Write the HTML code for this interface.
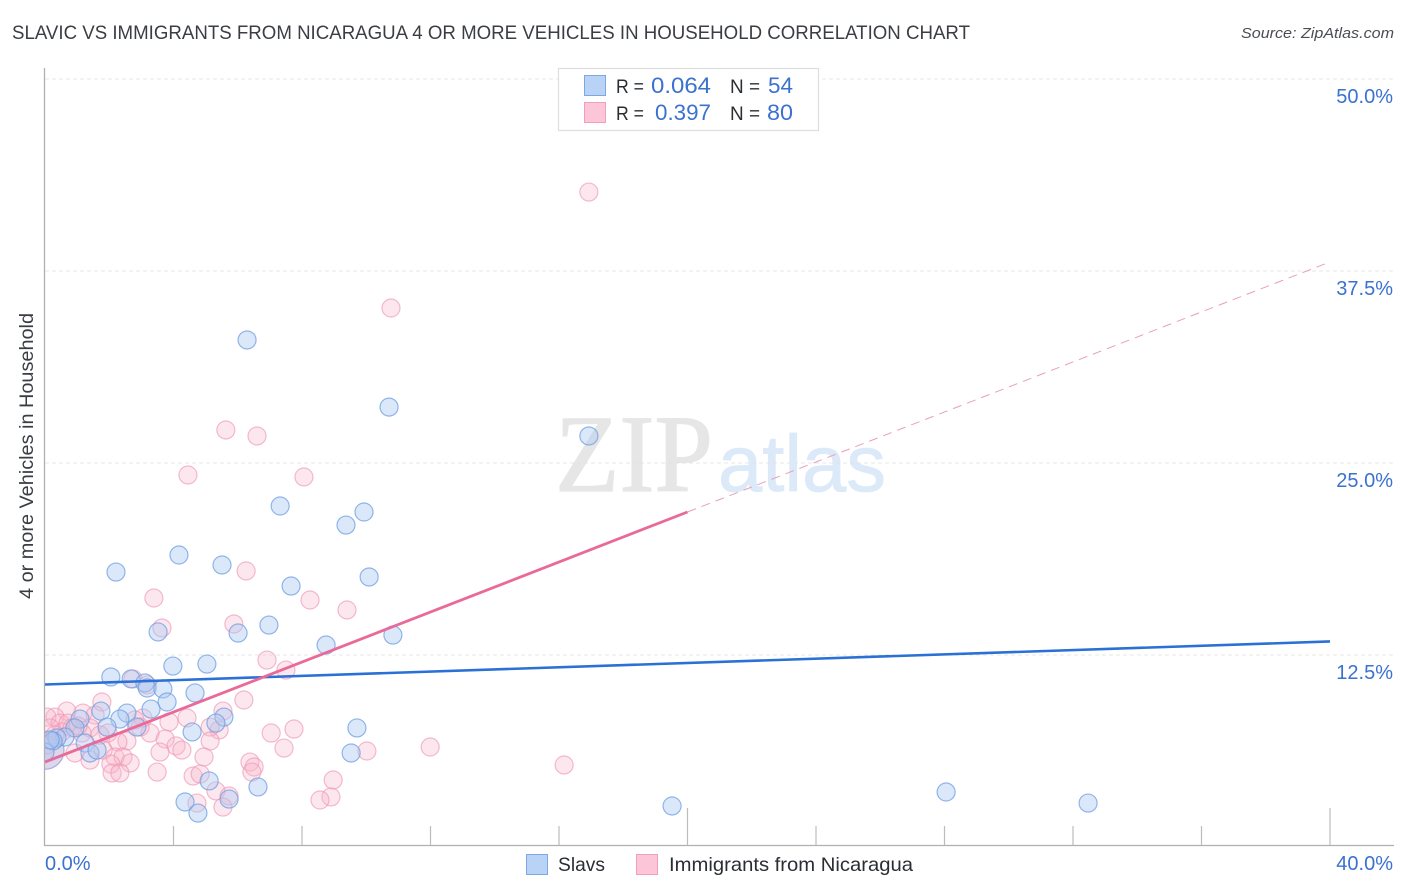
<!DOCTYPE html>
<html lang="en">
<head>
<meta charset="utf-8">
<title>Slavic vs Immigrants from Nicaragua correlation chart</title>
<style>
html,body{margin:0;padding:0;background:#fff;width:1406px;height:892px;overflow:hidden}
svg{display:block;font-family:"Liberation Sans",sans-serif}
</style>
</head>
<body>
<svg id="chart" xmlns="http://www.w3.org/2000/svg" width="1406" height="892" viewBox="0 0 1406 892">
  <defs><clipPath id="plot-clip"><rect x="45" y="60" width="1350" height="785"/></clipPath></defs>
  <rect width="1406" height="892" fill="#fff"/>
  <text x="12" y="39" font-size="19" fill="#3a3e43" textLength="958" lengthAdjust="spacingAndGlyphs">SLAVIC VS IMMIGRANTS FROM NICARAGUA 4 OR MORE VEHICLES IN HOUSEHOLD CORRELATION CHART</text>
  <text x="1394" y="38" font-size="15" font-style="italic" fill="#4a4e54" text-anchor="end" textLength="153" lengthAdjust="spacingAndGlyphs">Source: ZipAtlas.com</text>
  <g>
    <text x="555" y="491" font-family="'Liberation Serif',serif" font-size="110" fill="#e6e6e6" stroke="#e6e6e6" stroke-width="1.2" textLength="158" lengthAdjust="spacingAndGlyphs">ZIP</text>
    <text x="718" y="491" font-size="80" fill="#dce9f8" stroke="#dce9f8" stroke-width="0.8" textLength="168" lengthAdjust="spacingAndGlyphs">atlas</text>
  </g>
  <g id="grid"></g>
  <g id="axes"></g>
  <g id="marks" clip-path="url(#plot-clip)"></g>
  <g id="trends" clip-path="url(#plot-clip)"></g>
  <text transform="translate(33,456) rotate(-90)" font-size="19" fill="#3a3e43" text-anchor="middle" textLength="286" lengthAdjust="spacingAndGlyphs">4 or more Vehicles in Household</text>

  <g>
    <rect x="558.5" y="68.5" width="260" height="62" fill="#fff" stroke="#dedede" stroke-width="1.2"/>
    <rect x="584.5" y="75.5" width="21" height="20" fill="#b9d3f6" stroke="#7ea8e2"/>
    <rect x="584.5" y="102.5" width="21" height="20" fill="#fcc6d8" stroke="#f0a0bb"/>
    <text x="616" y="93" font-size="19.5" fill="#2a2e33" textLength="28" lengthAdjust="spacingAndGlyphs">R =</text>
    <text x="711" y="93" font-size="22" fill="#3b72d0" text-anchor="end" textLength="60" lengthAdjust="spacingAndGlyphs">0.064</text>
    <text x="730" y="93" font-size="19.5" fill="#2a2e33" textLength="30" lengthAdjust="spacingAndGlyphs">N =</text>
    <text x="793" y="93" font-size="22" fill="#3b72d0" text-anchor="end" textLength="25" lengthAdjust="spacingAndGlyphs">54</text>
    <text x="616" y="120" font-size="19.5" fill="#2a2e33" textLength="28" lengthAdjust="spacingAndGlyphs">R =</text>
    <text x="711" y="120" font-size="22" fill="#3b72d0" text-anchor="end" textLength="56" lengthAdjust="spacingAndGlyphs">0.397</text>
    <text x="730" y="120" font-size="19.5" fill="#2a2e33" textLength="30" lengthAdjust="spacingAndGlyphs">N =</text>
    <text x="793" y="120" font-size="22" fill="#3b72d0" text-anchor="end" textLength="26" lengthAdjust="spacingAndGlyphs">80</text>
  </g>

  <g>
    <rect x="526.5" y="854.5" width="21" height="20" fill="#b9d3f6" stroke="#7ea8e2"/>
    <text x="558" y="871" font-size="19.5" fill="#2a2e33" textLength="47" lengthAdjust="spacingAndGlyphs">Slavs</text>
    <rect x="636.5" y="854.5" width="21" height="20" fill="#fcc6d8" stroke="#f0a0bb"/>
    <text x="669" y="871" font-size="19.5" fill="#2a2e33" textLength="244" lengthAdjust="spacingAndGlyphs">Immigrants from Nicaragua</text>
  </g>
</svg>
<script>
const yTickValues = [12.5, 25, 37.5, 50];
const yTickLabels = ["12.5%", "25.0%", "37.5%", "50.0%"];
const xTickValues = [4, 8, 12, 16, 20, 24, 28, 32, 36, 40];
const xMajorTicks = [20, 40];
const xEndValues = [0, 40];
const xEndLabels = ["0.0%", "40.0%"];

const slavsX = [6.29,10.71,16.93,7.32,9.93,9.37,4.17,5.51,2.21,10.09,7.66,6.97,6.01,3.52,10.83,8.75,3.98,5.04,2.05,2.68,3.11,3.18,3.67,4.67,3.80,3.30,1.74,2.55,2.33,5.57,5.32,2.86,1.93,4.58,9.71,9.53,1.09,0.93,0.62,0.37,0.25,1.25,1.40,1.62,0.00,5.11,6.63,4.36,5.73,4.76,19.52,28.05,32.47,0.16];
const slavsY = [33.01,28.64,26.76,22.20,21.81,20.96,19.01,18.36,17.90,17.58,16.99,14.45,13.93,14.00,13.80,13.15,11.78,11.91,11.07,10.94,10.68,10.35,10.29,10.03,9.44,8.98,8.85,8.72,8.33,8.46,8.07,7.81,7.81,7.49,7.75,6.12,8.33,7.75,7.16,7.10,6.90,6.77,6.12,6.31,6.18,4.30,3.91,2.93,3.12,2.21,2.67,3.58,2.86,6.97];

const nicaraguaX = [16.93,10.77,5.63,6.60,4.45,8.06,6.26,3.39,8.25,9.40,5.88,3.64,6.91,7.50,2.74,3.18,6.19,1.77,5.54,4.42,3.86,5.42,5.14,7.04,7.75,3.27,3.74,4.08,4.26,3.58,5.14,4.95,7.44,3.49,4.61,4.83,6.38,6.51,6.44,5.32,4.73,5.73,5.54,10.02,11.99,8.97,8.90,8.56,16.16,0.68,0.31,0.06,1.18,1.56,0.47,0.72,1.40,1.96,1.15,3.05,2.80,2.55,2.27,0.53,1.81,0.93,1.40,2.18,2.43,2.65,2.05,2.09,2.33,0.16,0.84,2.96,1.03,0.31,1.71,0.06];
const nicaraguaY = [42.64,35.09,27.15,26.76,24.22,24.09,17.97,16.21,16.08,15.43,14.52,14.26,12.17,11.52,10.94,10.55,9.57,9.44,8.85,8.40,8.14,7.62,7.81,7.42,7.68,7.42,7.03,6.58,6.31,6.18,6.90,5.86,6.44,4.88,4.62,4.75,5.53,5.21,4.88,3.65,2.86,3.32,2.60,6.25,6.51,4.36,3.26,3.06,5.34,8.85,8.46,8.46,8.72,8.59,8.07,8.07,7.75,7.42,7.42,8.40,8.27,6.90,6.84,7.49,6.31,6.12,5.66,5.86,5.86,5.47,5.40,4.82,4.82,7.75,7.75,7.81,7.88,7.29,7.29,6.64];

/* heavily weighted cluster sitting on the y axis, drawn as one large bubble per series */
const originClusterX = [0];
const originClusterY = [6.3];

const slavsTrendX = [0, 40];
const slavsTrendY = [10.58, 13.38];
const nicaraguaSolidX = [0, 20];
const nicaraguaSolidY = [5.53, 21.81];
const nicaraguaDashX = [20, 40];
const nicaraguaDashY = [21.81, 38.09];

const SVGNS = "http://www.w3.org/2000/svg";
const xScale = v => 45 + v * 32.125;
const yScale = v => 847 - v * 15.36;
const BLUE_TEXT = "#3b72d0";

function make(parentId, tag, attrs, text) {
  const el = document.createElementNS(SVGNS, tag);
  for (const k in attrs) el.setAttribute(k, attrs[k]);
  if (text !== undefined) el.textContent = text;
  document.getElementById(parentId).appendChild(el);
  return el;
}

yTickValues.forEach((v, i) => {
  const line = make("grid", "line", {x1: 45, x2: 1393, y1: yScale(v), y2: yScale(v), stroke: "#e0e0e0", "stroke-width": 0.8, "stroke-dasharray": "4 3"});
  
  
  const label = make("axes", "text", {x: 1393, y: yScale(v) + 24, "font-size": 20, fill: BLUE_TEXT, "text-anchor": "end"}, yTickLabels[i]);
  
  
});

const yAxisLine = make("axes", "line", {x1: 44.5, x2: 44.5, y1: 68, y2: 846, stroke: "#b0b0b0", "stroke-width": 1.3});


const xAxisLine = make("axes", "line", {x1: 44, x2: 1394, y1: 845.5, y2: 845.5, stroke: "#b0b0b0", "stroke-width": 1.3});



xTickValues.forEach(v => {
  const top = xMajorTicks.includes(v) ? 808 : 826;
  const tick = make("axes", "line", {x1: xScale(v), x2: xScale(v), y1: top, y2: 845, stroke: "#bcbcbc", "stroke-width": 1.2});
  
  
});

xEndValues.forEach((v, i) => {
  const isFirst = i === 0;
  const label = make("axes", "text", {x: isFirst ? 45 : 1393, y: 870, "font-size": 20, fill: BLUE_TEXT, "text-anchor": isFirst ? "start" : "end"}, xEndLabels[i]);
  
  
});

function drawSeries(xs, ys, fill, stroke, fillOpacity, strokeOpacity, name) {
  xs.forEach((x, i) => {
    const c = make("marks", "circle", {cx: xScale(x), cy: yScale(ys[i]), r: 9, fill: fill, "fill-opacity": fillOpacity, stroke: stroke, "stroke-width": 1.2, "stroke-opacity": strokeOpacity});
    
    
  });
}

originClusterX.forEach((x, i) => {
  const pinkBig = make("marks", "circle", {cx: xScale(x), cy: yScale(originClusterY[i]), r: 19, fill: "#f7a8c2", "fill-opacity": 0.35, stroke: "#ee9ab6", "stroke-width": 1.2, "stroke-opacity": 0.6});
  
  
  const blueBig = make("marks", "circle", {cx: xScale(x), cy: yScale(originClusterY[i]), r: 19, fill: "#a9c8f2", "fill-opacity": 0.4, stroke: "#7ea8e2", "stroke-width": 1.2, "stroke-opacity": 0.6});
  
  
});

drawSeries(nicaraguaX, nicaraguaY, "#f9b3c9", "#ee97b3", 0.32, 0.65, "nicaragua-point");
drawSeries(slavsX, slavsY, "#a9c8f2", "#6f9fe0", 0.42, 0.75, "slavs-point");

const slavsLine = make("trends", "line", {x1: xScale(slavsTrendX[0]), y1: yScale(slavsTrendY[0]), x2: xScale(slavsTrendX[1]), y2: yScale(slavsTrendY[1]), stroke: "#2a70d6", "stroke-width": 2.6});


const pinkSolid = make("trends", "line", {x1: xScale(nicaraguaSolidX[0]), y1: yScale(nicaraguaSolidY[0]), x2: xScale(nicaraguaSolidX[1]), y2: yScale(nicaraguaSolidY[1]), stroke: "#e96a98", "stroke-width": 2.8});


const pinkDash = make("trends", "line", {x1: xScale(nicaraguaDashX[0]), y1: yScale(nicaraguaDashY[0]), x2: xScale(nicaraguaDashX[1]), y2: yScale(nicaraguaDashY[1]), stroke: "#e8a0b8", "stroke-width": 1, "stroke-dasharray": "9 6"});


</script>
</body>
</html>
